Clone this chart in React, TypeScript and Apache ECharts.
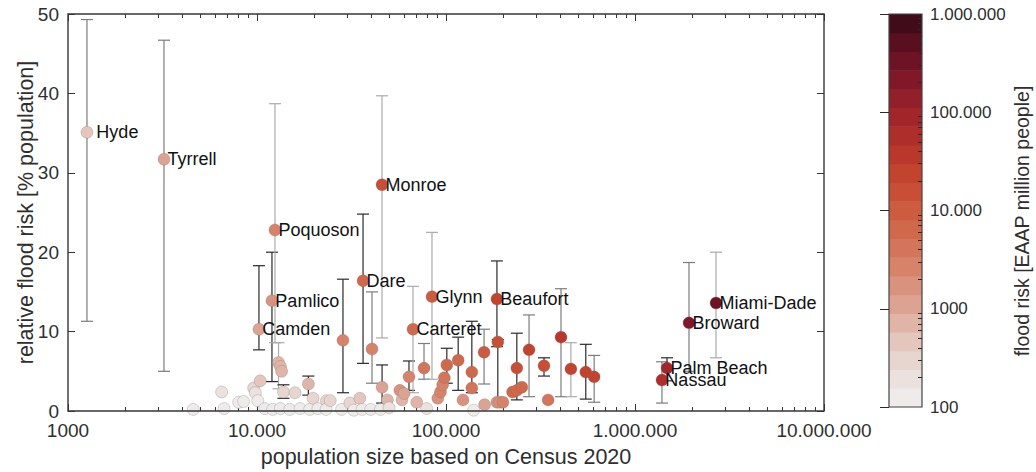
import React, { useEffect, useRef } from 'react';
import * as echarts from 'echarts';

// ---- data ----
const population = [
  1260, 3220, 4600, 6500, 6700, 8000, 8500, 9600, 9800, 10100,
  10240, 10400, 11000, 12000, 12100, 12450, 13000, 13300, 13500, 13300,
  13800, 14900, 15900, 16900, 18700, 19000, 19800, 21000, 23300, 23200,
  24400, 28000, 28500, 31000, 32500, 35000, 36000, 36400, 40000, 40600,
  45000, 45850, 45900, 49000, 50000, 57000, 58500, 60000, 63700, 66900,
  70000, 76500, 79000, 84300, 90500, 93500, 96000, 98000, 101000, 116000,
  123000, 137000, 137000, 140000, 159000, 160000, 186000, 188000, 186000, 193000,
  200000, 225000, 237000, 252000, 237000, 275000, 330000, 347000, 406000, 458000,
  549000, 608000, 1389000, 1477000, 1931000, 2683000,
];
const relativeRisk = [
  35.1, 31.7, 0.2, 2.4, 0.3, 1.1, 1.2, 2.9, 2.3, 1.3,
  10.3, 3.8, 0.3, 13.9, 0.2, 22.8, 6.1, 5.6, 5.0, 0.3,
  2.4, 0.2, 2.3, 0.3, 3.4, 0.2, 1.6, 0.3, 1.3, 0.2,
  1.3, 0.2, 8.9, 1.0, 0.1, 1.6, 0.2, 16.4, 0.2, 7.8,
  0.2, 28.5, 3.0, 1.4, 0.4, 2.6, 1.4, 2.2, 4.3, 10.3,
  1.1, 5.4, 0.3, 14.4, 1.6, 2.4, 3.3, 4.2, 5.8, 6.4,
  1.4, 4.9, 2.9, 0.1, 7.4, 0.8, 14.1, 8.7, 1.1, 1.1,
  1.1, 2.4, 2.6, 3.0, 5.4, 7.7, 5.7, 1.4, 9.3, 5.3,
  4.9, 4.3, 3.9, 5.4, 11.1, 13.6,
];
const riskLow = [
  11.3, 5.0, null, null, null, null, null, null, null, null,
  7.7, null, null, 3.7, null, 8.6, 2.8, null, null, null,
  1.6, null, null, null, 2.0, null, null, null, null, null,
  null, null, 2.3, null, null, null, null, 6.0, null, 3.5,
  null, 9.2, 1.0, null, null, null, null, null, 2.6, 2.3,
  null, 4.0, null, 4.0, null, null, null, null, 3.5, 2.6,
  null, 2.3, null, null, 3.4, null, 8.1, 1.2, null, null,
  null, null, null, null, 1.4, 1.8, 4.4, null, 1.8, 1.8,
  1.5, 1.1, 1.0, 3.8, 5.0, 6.7,
];
const riskHigh = [
  49.3, 46.7, null, null, null, null, null, null, null, null,
  18.3, null, null, 20.0, null, 38.7, 8.6, null, null, null,
  3.3, null, null, null, 4.4, null, null, null, null, null,
  null, null, 16.6, null, null, null, null, 24.8, null, 15.0,
  null, 39.7, 5.8, null, null, null, null, null, 6.3, 15.7,
  null, 8.5, null, 22.5, null, null, null, null, 7.9, 9.3,
  null, 11.3, null, null, 10.3, null, 18.9, 9.0, null, null,
  null, null, null, null, 9.8, 12.1, 6.7, null, 15.4, 8.6,
  8.4, 7.0, 6.2, 6.7, 18.7, 20.0,
];
// error bar tone: 0 dark, 1 mid grey, 2 light grey
const barTone = [
  1, 1, 0, 0, 0, 0, 0, 0, 0, 0,
  0, 0, 0, 0, 0, 2, 2, 0, 0, 0,
  0, 0, 0, 0, 0, 0, 0, 0, 0, 0,
  0, 0, 0, 0, 0, 0, 0, 0, 0, 1,
  0, 2, 0, 0, 0, 0, 0, 0, 0, 2,
  0, 1, 0, 2, 0, 0, 0, 0, 0, 0,
  0, 0, 0, 0, 1, 0, 0, 0, 0, 0,
  0, 0, 0, 0, 0, 1, 0, 0, 1, 2,
  0, 1, 1, 0, 1, 2,
];
const countyName: Record<number, string> = {
  0: 'Hyde', 1: 'Tyrrell', 10: 'Camden', 13: 'Pamlico', 15: 'Poquoson',
  37: 'Dare', 41: 'Monroe', 49: 'Carteret', 53: 'Glynn', 66: 'Beaufort',
  82: 'Nassau', 83: 'Palm Beach', 84: 'Broward', 85: 'Miami-Dade',
};

const xMajorTicks = [1000, 10000, 100000, 1000000, 10000000];
const yTicks = [0, 10, 20, 30, 40, 50];
const colorbarTicks = [100, 1000, 10000, 100000, 1000000];

// colormap of the colour bar, from 100 (bottom) to 1.000.000 (top)
const colorbarColors = [
  '#efebeb', '#ebe1df', '#e7d5d0', '#e4c6bd', '#e0b5a7', '#dca392', '#d9927d',
  '#d6836a', '#d3755a', '#d0684b', '#cc5b3f', '#c84f35', '#c2432e', '#b9382b',
  '#ae2e2b', '#a1252b', '#92202b', '#801829', '#6d1325', '#590f20', '#420b19',
];

const FONT = '"Liberation Sans", Arial, Helvetica, sans-serif';
const TEXT = '#2e2e2e';
const AXIS = '#363636';
const toneColors = ['#2a2a2a', '#7c7c7c', '#ababab'];

function minorTicks(lo: number, hi: number) {
  const out: number[] = [];
  for (let d = lo; d < hi; d++) for (let k = 2; k <= 9; k++) out.push(k * Math.pow(10, d));
  return out;
}

function fmt(v: number) {
  const r = Math.round(v);
  return r >= 10000 ? String(r).replace(/\B(?=(\d{3})+(?!\d))/g, '.') : String(r);
}

function colorFor(eaap: number) {
  const n = colorbarColors.length;
  const f = (Math.log10(Math.max(eaap, 100)) - 2) / 4;
  const i = Math.min(n - 1, Math.max(0, Math.floor(f * n)));
  return colorbarColors[i];
}

export default function App() {
  const ref = useRef<HTMLDivElement>(null);
  useEffect(() => {
    document.body.style.margin = '0';
    if (!ref.current) return;
    const chart = echarts.init(ref.current, null, { renderer: 'svg' });

    const xMinor = minorTicks(3, 7);
    const cMinor = minorTicks(2, 6);

    const barData: number[][] = [];
    population.forEach((p, i) => {
      if (riskLow[i] != null && riskHigh[i] != null)
        barData.push([p, riskLow[i] as number, riskHigh[i] as number, barTone[i]]);
    });

    const pointData = population.map((p, i) => {
      const name = countyName[i];
      const eaap = (p * relativeRisk[i]) / 100;
      return {
        value: [p, relativeRisk[i]],
        itemStyle: { color: colorFor(eaap) },
        label: name
          ? { show: true, formatter: name, distance: name === 'Hyde' ? 3 : -3 }
          : { show: false },
      };
    });

    const nBands = colorbarColors.length;
    const bandData = colorbarColors.map((_, i) => [
      Math.pow(10, 2 + (4 * i) / nBands),
      Math.pow(10, 2 + (4 * (i + 1)) / nBands),
      i,
    ]);

    const logX = (extra: any) => ({
      gridIndex: 0,
      type: 'log',
      logBase: 10,
      min: 1000,
      max: 10000000,
      offset: 0,
      axisLine: { show: false },
      splitLine: { show: false },
      axisLabel: { show: false },
      ...extra,
    });

    const option: any = {
      animation: false,
      textStyle: { fontFamily: FONT },
      grid: [
        { left: 68, top: 14, width: 756, height: 397, containLabel: false, outerBoundsMode: 'none', show: true, borderColor: AXIS, borderWidth: 1.4, backgroundColor: 'transparent', z: 5 },
        { left: 889, top: 14, width: 33, height: 393, containLabel: false, outerBoundsMode: 'none', show: true, borderColor: '#444', borderWidth: 1.2, backgroundColor: 'transparent', z: 10 },
      ],
      xAxis: [
        logX({
          position: 'bottom',
          axisTick: { inside: true, length: 7, customValues: xMajorTicks, lineStyle: { color: AXIS, width: 1 } },
          axisLabel: { show: true, customValues: xMajorTicks, formatter: fmt, fontSize: 19, color: TEXT, margin: 10, fontFamily: FONT },
          name: 'population size based on Census 2020',
          nameLocation: 'middle',
          nameGap: 35,
          nameMoveOverlap: false,
          nameTextStyle: { fontSize: 21.5, color: TEXT, fontFamily: FONT },
        }),
        logX({ position: 'bottom', axisTick: { inside: true, length: 4, customValues: xMinor, lineStyle: { color: AXIS } } }),
        logX({ position: 'top', axisTick: { inside: true, length: 7, customValues: xMajorTicks, lineStyle: { color: AXIS } } }),
        logX({ position: 'top', axisTick: { inside: true, length: 4, customValues: xMinor, lineStyle: { color: AXIS } } }),
        { gridIndex: 1, type: 'value', min: 0, max: 1, show: false },
      ],
      yAxis: [
        {
          gridIndex: 0, type: 'value', min: 0, max: 50, interval: 10, position: 'left', offset: 0,
          axisLine: { show: false }, splitLine: { show: false },
          axisTick: { inside: true, length: 7, lineStyle: { color: AXIS } },
          axisLabel: { fontSize: 19, color: TEXT, margin: 9, fontFamily: FONT, customValues: yTicks },
          name: 'relative flood risk [% population]',
          nameLocation: 'middle', nameRotate: 90, nameGap: 31, nameMoveOverlap: false,
          nameTextStyle: { fontSize: 21.5, color: TEXT, fontFamily: FONT },
        },
        {
          gridIndex: 0, type: 'value', min: 0, max: 50, interval: 10, position: 'right', offset: 0,
          axisLine: { show: false }, splitLine: { show: false },
          axisTick: { inside: true, length: 7, lineStyle: { color: AXIS } },
          axisLabel: { show: false },
        },
        {
          gridIndex: 1, type: 'log', logBase: 10, min: 100, max: 1000000, position: 'right', offset: 0, z: 12,
          axisLine: { show: false }, splitLine: { show: false },
          axisTick: { inside: true, length: 9, customValues: colorbarTicks, lineStyle: { color: '#2a2a2a' } },
          axisLabel: { customValues: colorbarTicks, formatter: fmt, fontSize: 17, color: TEXT, margin: 8, fontFamily: FONT },
        },
        {
          gridIndex: 1, type: 'log', logBase: 10, min: 100, max: 1000000, position: 'right', offset: 0, z: 12,
          axisLine: { show: false }, splitLine: { show: false },
          axisTick: { inside: true, length: 4, customValues: cMinor, lineStyle: { color: '#2a2a2a' } },
          axisLabel: { show: false },
        },
      ],
      graphic: [
        {
          type: 'text', x: 1022, y: 221, rotation: Math.PI / 2,
          style: { text: 'flood risk [EAAP million people]', fontSize: 19.5, fill: TEXT, fontFamily: FONT, align: 'center', verticalAlign: 'middle' },
        },
      ],
      series: [
        {
          type: 'custom', xAxisIndex: 0, yAxisIndex: 0, z: 2,
          data: barData,
          encode: { x: 0, y: [1, 2] },
          renderItem: (params: any, api: any) => {
            const x = api.value(0);
            const lo = api.coord([x, api.value(1)]);
            const hi = api.coord([x, api.value(2)]);
            const stroke = toneColors[api.value(3)];
            const w = 6;
            const st = { stroke, lineWidth: 1.2 };
            return {
              type: 'group',
              children: [
                { type: 'line', shape: { x1: lo[0], y1: lo[1], x2: hi[0], y2: hi[1] }, style: st },
                { type: 'line', shape: { x1: lo[0] - w, y1: lo[1], x2: lo[0] + w, y2: lo[1] }, style: st },
                { type: 'line', shape: { x1: hi[0] - w, y1: hi[1], x2: hi[0] + w, y2: hi[1] }, style: st },
              ],
            };
          },
        },
        {
          type: 'scatter', xAxisIndex: 0, yAxisIndex: 0, z: 3,
          symbol: 'circle', symbolSize: 12,
          itemStyle: { borderColor: 'rgba(110,110,110,0.35)', borderWidth: 0.8, opacity: 1 },
          label: { position: 'right', fontSize: 18, color: '#111', fontFamily: FONT },
          emphasis: { disabled: true },
          data: pointData,
        },
        {
          type: 'custom', xAxisIndex: 4, yAxisIndex: 2, z: 1,
          data: bandData,
          encode: { y: [0, 1] },
          renderItem: (params: any, api: any) => {
            const top = api.coord([0, api.value(1)]);
            const bot = api.coord([1, api.value(0)]);
            return {
              type: 'rect',
              shape: { x: top[0], y: top[1], width: bot[0] - top[0], height: bot[1] - top[1] + 0.5 },
              style: { fill: colorbarColors[api.value(2)] },
            };
          },
        },
      ],
    };
    chart.setOption(option);
    return () => chart.dispose();
  }, []);
  return <div ref={ref} style={{ width: 1036, height: 472 }} />;
}
